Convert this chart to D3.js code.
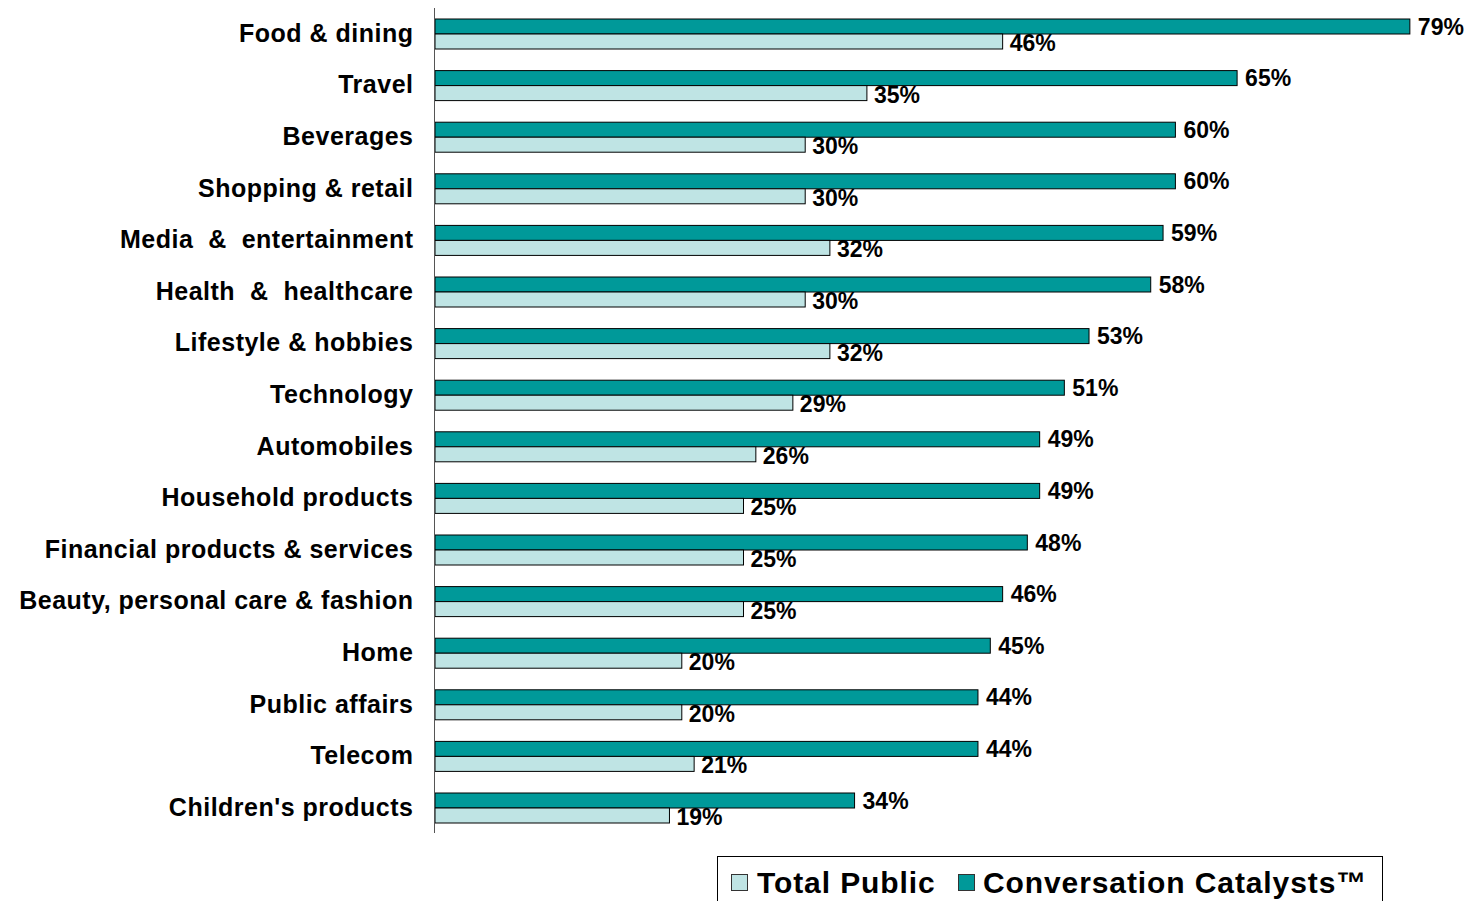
<!DOCTYPE html>
<html>
<head>
<meta charset="utf-8">
<script src="https://cdn.jsdelivr.net/npm/d3@7"></script>
<style>
  html, body { margin: 0; padding: 0; background: #ffffff; }
  svg { display: block; font-family: "Liberation Sans", Arial, sans-serif; }
</style>
</head>
<body>
<svg id="chart" width="1468" height="901"></svg>
<script>
// Categories, top to bottom
const categories = [
  "Food & dining",
  "Travel",
  "Beverages",
  "Shopping & retail",
  "Media  &  entertainment",
  "Health  &  healthcare",
  "Lifestyle & hobbies",
  "Technology",
  "Automobiles",
  "Household products",
  "Financial products & services",
  "Beauty, personal care & fashion",
  "Home",
  "Public affairs",
  "Telecom",
  "Children's products"
];

// Share (%) per category
const catalysts   = [79, 65, 60, 60, 59, 58, 53, 51, 49, 49, 48, 46, 45, 44, 44, 34];
const totalPublic = [46, 35, 30, 30, 32, 30, 32, 29, 26, 25, 25, 25, 20, 20, 21, 19];

const seriesNames = ["Total Public", "Conversation Catalysts\u2122"];

const DARK = "#009999";
const LIGHT = "#BFE4E4";

const svg = d3.select("#chart");

const axisX = 435;
const x = d3.scaleLinear().domain([0, 100]).range([axisX, axisX + 1234]);
const y = d3.scaleBand().domain(categories).range([8.2, 833.8]);
const barH = 15;

const rows = categories.map((c, i) => ({ cat: c, cc: catalysts[i], tp: totalPublic[i] }));
const mid = d => y(d.cat) + y.bandwidth() / 2;

const g = svg.append("g");

// Conversation Catalysts bars (upper)
g.selectAll("rect.cc").data(rows).enter().append("rect")
  .attr("class", "cc")
  .attr("x", axisX)
  .attr("y", d => mid(d) - barH)
  .attr("width", d => x(d.cc) - axisX)
  .attr("height", barH)
  .attr("fill", DARK)
  .attr("stroke", "#000")
  .attr("stroke-width", 1);

// Total Public bars (lower)
g.selectAll("rect.tp").data(rows).enter().append("rect")
  .attr("class", "tp")
  .attr("x", axisX)
  .attr("y", d => mid(d))
  .attr("width", d => x(d.tp) - axisX)
  .attr("height", barH)
  .attr("fill", LIGHT)
  .attr("stroke", "#000")
  .attr("stroke-width", 1);

// Value labels
g.selectAll("text.ccv").data(rows).enter().append("text")
  .attr("x", d => x(d.cc) + 8)
  .attr("y", d => mid(d) + 0.5)
  .attr("font-size", 23)
  .attr("font-weight", "bold")
  .attr("fill", "#000")
  .text(d => d.cc + "%");

g.selectAll("text.tpv").data(rows).enter().append("text")
  .attr("x", d => x(d.tp) + 7)
  .attr("y", d => mid(d) + 17)
  .attr("font-size", 23)
  .attr("font-weight", "bold")
  .attr("fill", "#000")
  .text(d => d.tp + "%");

// Vertical category axis
const yAxis = d3.axisLeft(y).tickSize(0).tickPadding(21);
const ax = svg.append("g")
  .attr("transform", `translate(${axisX - 0.5},0)`)
  .call(yAxis);
ax.select(".domain").attr("d", `M0,8V833`).attr("stroke", "#555").attr("stroke-width", 1);
ax.selectAll(".tick text")
  .attr("font-size", 25)
  .attr("font-weight", "bold")
  .attr("letter-spacing", 0.5)
  .attr("font-family", "'Liberation Sans', Arial, sans-serif")
  .attr("fill", "#000")
  .attr("dy", "0.35em")
  .attr("dx", 0)
  .attr("y", -1)
  .style("white-space", "pre");

// Legend
const legend = svg.append("g");
legend.append("rect")
  .attr("x", 717.5).attr("y", 856.5)
  .attr("width", 665).attr("height", 60)
  .attr("fill", "#fff").attr("stroke", "#000").attr("stroke-width", 1);

const legendItems = [
  { name: seriesNames[0], color: LIGHT, sx: 731, tx: 757 },
  { name: seriesNames[1], color: DARK,  sx: 958, tx: 983 }
];
legendItems.forEach(it => {
  legend.append("rect")
    .attr("x", it.sx + 0.5).attr("y", 874.5)
    .attr("width", 16).attr("height", 16)
    .attr("fill", it.color).attr("stroke", "#333").attr("stroke-width", 1);
  legend.append("text")
    .attr("x", it.tx).attr("y", 893)
    .attr("font-size", 30)
    .attr("font-weight", "bold")
    .attr("letter-spacing", 0.9)
    .attr("fill", "#000")
    .text(it.name);
});
</script>
</body>
</html>
